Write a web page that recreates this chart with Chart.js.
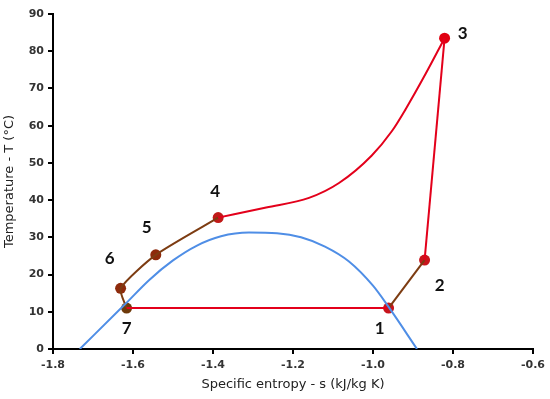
<!DOCTYPE html>
<html>
<head>
<meta charset="utf-8">
<script src="https://cdn.jsdelivr.net/npm/chart.js@4/dist/chart.umd.min.js"></script>
<style>
  html, body { margin: 0; padding: 0; background: #fff; }
  #wrap { width: 550px; height: 399px; }
</style>
</head>
<body>
<div id="wrap"><canvas id="tsChart"></canvas></div>
<script>
// saturation dome (blue)
const domeS = [-1.733, -1.62, -1.56, -1.5, -1.44, -1.38, -1.31, -1.24, -1.18, -1.12, -1.06, -1.0, -0.961, -0.89];
const domeT = [0, 12, 18.5, 23.8, 27.8, 30.3, 31.3, 31.1, 30.0, 27.5, 23.5, 17, 11.3, 0];

// cycle states 1..7
const stateNames = ['1', '2', '3', '4', '5', '6', '7'];
const stateS = [-0.961, -0.871, -0.821, -1.387, -1.543, -1.631, -1.616];
const stateT = [11, 23.9, 83.5, 35.3, 25.3, 16.3, 11];

// curved path from state 4 up to state 3
const curveS = [-1.387, -1.267, -1.16, -1.085, -1.003, -0.953, -0.918, -0.868, -0.821];
const curveT = [35.3, 38.0, 40.6, 44.6, 52, 58.5, 64.5, 74, 83.5];

const xTicks = [-1.8, -1.6, -1.4, -1.2, -1.0, -0.8, -0.6];
const yTicks = [0, 10, 20, 30, 40, 50, 60, 70, 80, 90];

const RED = '#e3001b';
const BROWN = '#7d3c12';
const FONT = '"DejaVu Sans", "Liberation Sans", sans-serif';
const pts = (xs, ys) => xs.map((x, i) => ({ x, y: ys[i] }));
const st = i => ({ x: stateS[i], y: stateT[i] });

const markerColors = ['#c8141c', '#c8141c', '#e00010', '#c01a18', '#8e2a0c', '#8e2a0c', '#6e3a0a'];
// label offsets in px relative to each state marker
const labelOffsets = [[-9, 20], [15, 25], [18, -5], [-3, -26], [-9, -27], [-11, -30], [0, 20]];

const stateLabelsPlugin = {
    id: 'stateLabels',
    afterDatasetsDraw(chart) {
        const { ctx, scales } = chart;
        ctx.save();
        ctx.font = 'bold 17px Lato, "Liberation Sans", sans-serif';
        ctx.fillStyle = '#111';
        ctx.textAlign = 'center';
        ctx.textBaseline = 'middle';
        stateNames.forEach((n, i) => {
            const px = scales.x.getPixelForValue(stateS[i]);
            const py = scales.y.getPixelForValue(stateT[i]);
            ctx.fillText(n, px + labelOffsets[i][0], py + labelOffsets[i][1]);
        });
        ctx.restore();
    }
};

const lineDs = (data, color, extra) => Object.assign({
    data, showLine: true, borderColor: color, borderWidth: 2,
    pointRadius: 0, pointHoverRadius: 0, fill: false
}, extra || {});

new Chart(document.getElementById('tsChart'), {
    type: 'scatter',
    data: {
        datasets: [
            lineDs(pts(domeS, domeT), '#4f8ee6', { cubicInterpolationMode: 'monotone' }),
            lineDs([st(6), st(0)], RED),
            lineDs(pts(curveS, curveT), RED, { cubicInterpolationMode: 'monotone' }),
            lineDs([st(1), st(2)], RED),
            lineDs([st(0), st(1)], BROWN),
            lineDs([st(6), st(5), st(4), st(3)], BROWN, { tension: 0.2 }),
            {
                data: stateS.map((s, i) => st(i)),
                showLine: false,
                pointRadius: 5.5,
                pointBackgroundColor: markerColors,
                pointBorderColor: markerColors,
                pointBorderWidth: 0
            }
        ]
    },
    options: {
        responsive: true,
        maintainAspectRatio: false,
        animation: false,
        layout: { padding: { top: 14, right: 14, left: 0, bottom: 0 } },
        plugins: { legend: { display: false }, tooltip: { enabled: false } },
        scales: {
            x: {
                type: 'linear',
                min: -1.8, max: -0.6,
                afterBuildTicks: s => { s.ticks = xTicks.map(v => ({ value: v })); },
                afterFit: s => { s.height = 50; },
                border: { color: '#000', width: 2 },
                grid: { drawOnChartArea: false, color: '#000', tickLength: 5, lineWidth: 2 },
                ticks: {
                    color: '#333', padding: 5,
                    font: { family: FONT, size: 11, weight: 'bold' },
                    callback: v => v.toFixed(1)
                },
                title: {
                    display: true, text: 'Specific entropy - s (kJ/kg K)', color: '#222',
                    font: { family: FONT, size: 13 },
                    padding: { top: 0, bottom: 7 }
                }
            },
            y: {
                type: 'linear',
                min: 0, max: 90,
                afterBuildTicks: s => { s.ticks = yTicks.map(v => ({ value: v })); },
                afterFit: s => { s.width = 53; },
                border: { color: '#000', width: 2 },
                grid: { drawOnChartArea: false, color: '#000', tickLength: 5, lineWidth: 2 },
                ticks: {
                    color: '#333', padding: 4,
                    font: { family: FONT, size: 11, weight: 'bold' }
                },
                title: {
                    display: true, text: 'Temperature - T (°C)', color: '#222',
                    font: { family: FONT, size: 13 },
                    padding: { top: 2, bottom: 3 }
                }
            }
        }
    },
    plugins: [stateLabelsPlugin]
});
</script>
</body>
</html>
